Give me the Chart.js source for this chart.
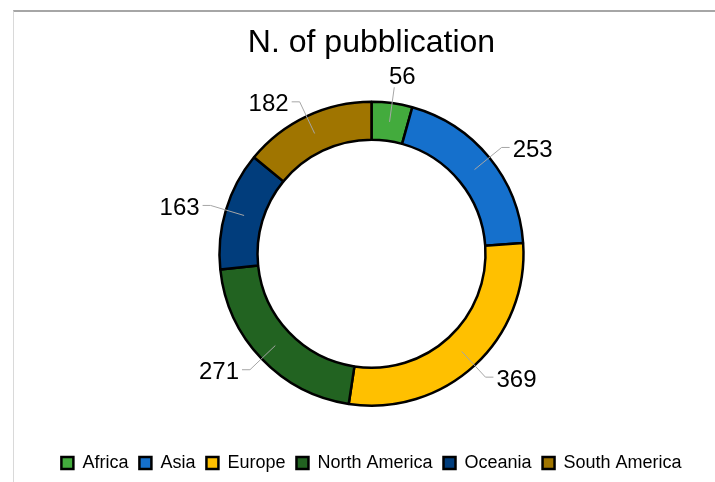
<!DOCTYPE html>
<html>
<head>
<meta charset="utf-8">
<title>N. of pubblication</title>
<script src="https://cdn.jsdelivr.net/npm/chart.js@4.4.0/dist/chart.umd.min.js"></script>
<style>
    html, body { margin: 0; padding: 0; background: #fff; }
    #wrap { position: relative; width: 715px; height: 482px; overflow: hidden; }
    #frame {
        position: absolute; left: 13px; top: 10px; right: -5px; bottom: -5px;
        border-top: 2px solid #a6a6a6; border-left: 1px solid #d9d9d9;
    }
    #grafica { position: absolute; left: 0; top: 0; }
</style>
</head>
<body>
<div id="wrap">
    <div id="frame"></div>
    <canvas id="grafica" width="715" height="482"></canvas>
</div>
<script>
// datos
const regiones = ["Africa", "Asia", "Europe", "North America", "Oceania", "South America"];
const publicaciones = [56, 253, 369, 271, 163, 182];
const coloresRegion = ["#43ab3d", "#1570cc", "#ffc000", "#226321", "#013d7c", "#a07500"];

const FUENTE = "'Liberation Sans', Arial, sans-serif";

// etiquetas con linea guia fuera del anillo
const etiquetasFuera = {
    id: 'etiquetasFuera',
    afterDatasetsDraw(chart) {
        const ctx = chart.ctx;
        const meta = chart.getDatasetMeta(0);
        const valores = chart.data.datasets[0].data;
        ctx.save();
        ctx.font = "24px " + FUENTE;
        ctx.fillStyle = "#000";
        ctx.strokeStyle = "#a6a6a6";
        ctx.lineWidth = 1;
        meta.data.forEach((arc, i) => {
            const p = arc.getProps(['x', 'y', 'startAngle', 'endAngle', 'innerRadius', 'outerRadius'], true);
            const ang = (p.startAngle + p.endAngle) / 2;
            const c = Math.cos(ang), s = Math.sin(ang);
            const rMedio = (p.innerRadius + p.outerRadius) / 2;
            const x0 = p.x + c * rMedio, y0 = p.y + s * rMedio;
            const x1 = p.x + c * (p.outerRadius + 16), y1 = p.y + s * (p.outerRadius + 16);
            const texto = String(valores[i]);
            ctx.beginPath();
            ctx.moveTo(x0, y0);
            ctx.lineTo(x1, y1);
            if (Math.abs(c) > 0.3) {
                const lado = c > 0 ? 1 : -1;
                const x2 = x1 + lado * 8;
                ctx.lineTo(x2, y1);
                ctx.stroke();
                ctx.textAlign = lado > 0 ? 'left' : 'right';
                ctx.textBaseline = 'middle';
                ctx.fillText(texto, x2 + lado * 3, y1 + 3);
            } else {
                ctx.stroke();
                ctx.textAlign = 'center';
                ctx.textBaseline = s < 0 ? 'bottom' : 'top';
                ctx.fillText(texto, x1 + 8, y1 + (s < 0 ? 2 : -2));
            }
        });
        ctx.restore();
    }
};

const ctxGrafica = document.getElementById('grafica').getContext('2d');
const grafica = new Chart(ctxGrafica, {
    type: 'doughnut',
    data: {
        labels: regiones,
        datasets: [{
            data: publicaciones,
            backgroundColor: coloresRegion,
            borderColor: '#000',
            borderWidth: 2.5,
            radius: 152,
            cutout: '75%'
        }]
    },
    options: {
        responsive: false,
        animation: false,
        layout: { padding: { top: 0, bottom: 0, left: 28, right: 0 } },
        plugins: {
            title: {
                display: true,
                text: 'N. of pubblication',
                color: '#000',
                font: { family: FUENTE, size: 32, weight: 'normal' },
                padding: { top: 24, bottom: 2 }
            },
            legend: {
                position: 'bottom',
                labels: {
                    color: '#000',
                    font: { family: FUENTE, size: 18 },
                    boxWidth: 12,
                    boxHeight: 12,
                    padding: 11
                }
            },
            tooltip: { enabled: false }
        }
    },
    plugins: [etiquetasFuera]
});
</script>
</body>
</html>
